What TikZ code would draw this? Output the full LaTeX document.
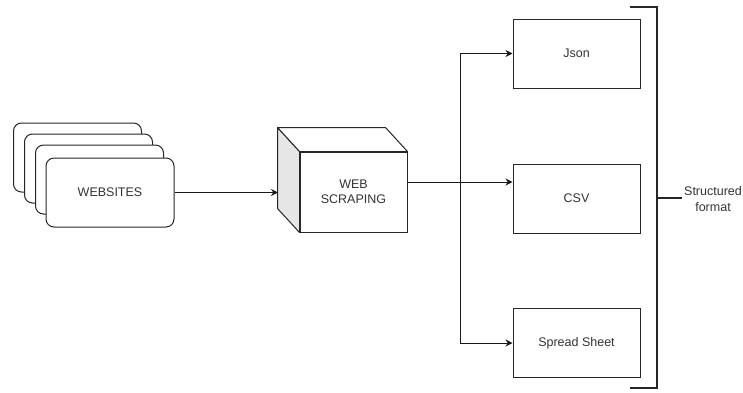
\documentclass[tikz,border=0pt]{standalone}
\usepackage{fontspec}
\setmainfont{Liberation Sans}
\usetikzlibrary{arrows.meta,calc}
\definecolor{txt}{HTML}{333333}
\definecolor{side}{HTML}{E6E6E6}
\begin{document}
\begin{tikzpicture}[x=1pt,y=-1pt,
  every node/.style={font=\fontsize{12.5}{15}\selectfont, text=txt},
  card/.style={draw=black!85, fill=white, rounded corners=8pt, line width=1pt, minimum width=128pt, minimum height=69pt, inner sep=0pt},
  outbox/.style={draw=black!85, fill=white, line width=1pt, minimum width=127pt, minimum height=69pt, inner sep=0pt},
  facebox/.style={draw=black!85, fill=white, line width=1pt, minimum width=107pt, minimum height=80pt, inner sep=0pt, align=center},
  conn/.style={draw=black!90, line width=1pt},
  arr/.style={conn, -{Stealth[length=7pt,width=7pt]}},
  brack/.style={draw=black!85, line width=2pt}
]
\useasboundingbox (0,0) rectangle (743,392);
% stacked cards
\node[card] (c1) at (77.5,157.5) {};
\node[card] (c2) at (88.5,168.5) {};
\node[card] (c3) at (99.5,179.5) {};
\node[card] (web) at (110,192.5) {WEBSITES};
% cube
\node[facebox] (ws) at (353.5,192) {WEB\\SCRAPING};
\draw[line width=1pt, draw=black!85, fill=side, line join=round] (ws.north west) -- ++(-22,-24) -- ($(ws.south west)+(-22,-24)$) -- (ws.south west) -- cycle;
\draw[line width=1pt, draw=black!85, fill=white, line join=round] (ws.north west) -- ++(-22,-24) -- ($(ws.north east)+(-22,-24)$) -- (ws.north east) -- cycle;
\coordinate (cubeL) at (278,192.5);
% outputs
\node[outbox] (json) at (576.5,53.5) {Json};
\node[outbox] (csv) at (576.5,198.5) {CSV};
\node[outbox] (sheet) at (576.5,343) {Spread Sheet};
% connectors
\draw[arr] (web.east) -- (cubeL);
\coordinate (br) at (460,182);
\draw[conn] (br -| ws.east) -- (br);
\draw[arr] (br) -- (br -| csv.west);
\draw[arr] (br) |- (json.west);
\draw[arr] (br) |- (sheet.west);
% bracket
\coordinate (bt) at (657,7);
\coordinate (bb) at (657,388);
\draw[brack] (630,7) -- (bt) -- (bb) -- (630,388);
\coordinate (bm) at (657,198);
\node[align=center, font=\fontsize{12.5}{16}\selectfont] (sf) at (713,199) {Structured\\format};
\draw[brack] (bm) -- (682,198);
\end{tikzpicture}
\end{document}
